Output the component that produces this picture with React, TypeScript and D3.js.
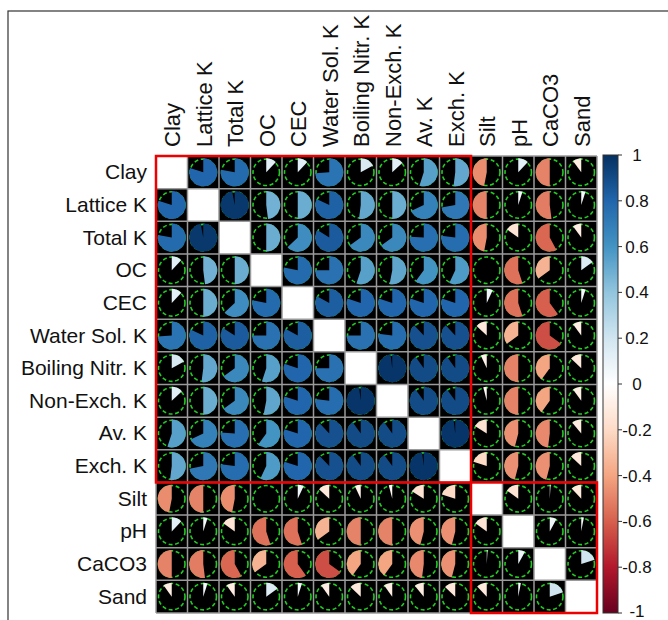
import React from "react";
import * as d3 from "d3";

// variables in plot order
const variables = [
  "Clay", "Lattice K", "Total K", "OC", "CEC", "Water Sol. K", "Boiling Nitr. K",
  "Non-Exch. K", "Av. K", "Exch. K", "Silt", "pH", "CaCO3", "Sand",
];

// lower triangle of the correlation matrix, one array per row
const corLatticeK = [0.8];
const corTotalK = [0.78, 0.97];
const corOC = [0.12, 0.48, 0.5];
const corCEC = [0.12, 0.5, 0.63, 0.78];
const corWaterSolK = [0.74, 0.82, 0.84, 0.75, 0.83];
const corBoilingNitrK = [0.17, 0.52, 0.65, 0.55, 0.8, 0.75];
const corNonExchK = [0.13, 0.5, 0.65, 0.53, 0.8, 0.77, 0.98];
const corAvK = [0.55, 0.68, 0.76, 0.6, 0.8, 0.88, 0.9, 0.9];
const corExchK = [0.52, 0.72, 0.77, 0.57, 0.8, 0.88, 0.9, 0.9, 0.98];
const corSilt = [-0.47, -0.5, -0.47, 0.0, 0.07, -0.13, -0.07, -0.04, -0.16, -0.2];
const corPH = [0.12, 0.05, -0.15, -0.55, -0.55, -0.35, -0.5, -0.5, -0.46, -0.46, -0.15];
const corCaCO3 = [-0.5, -0.52, -0.58, -0.35, -0.6, -0.65, -0.4, -0.4, -0.48, -0.46, 0.01, 0.08];
const corSand = [-0.1, 0.05, -0.1, 0.15, 0.05, -0.1, -0.13, -0.1, -0.11, -0.13, -0.12, 0.03, 0.2];

const lowerRows = [
  [], corLatticeK, corTotalK, corOC, corCEC, corWaterSolK, corBoilingNitrK,
  corNonExchK, corAvK, corExchK, corSilt, corPH, corCaCO3, corSand,
];

// clusters outlined in red (first / last variable index)
const clusters = [[0, 9], [10, 13]];

const legendTicks = [1, 0.8, 0.6, 0.4, 0.2, 0, -0.2, -0.4, -0.6, -0.8, -1];

// corrplot RdBu palette, -1 .. 1
const rdbu = ["#67001F", "#B2182B", "#D6604D", "#F4A582", "#FDDBC7", "#FFFFFF",
  "#D1E5F0", "#92C5DE", "#4393C3", "#2166AC", "#053061"];

const W = 668, H = 620;
const gridLeft = 156, gridTop = 156, gridRight = 597, gridBottom = 613;
const font = "'Liberation Sans', Arial, sans-serif";

export default function App() {
  const n = variables.length;
  const corr = (i: number, j: number) =>
    i === j ? 1 : i > j ? lowerRows[i][j] : lowerRows[j][i];

  const x = d3.scaleBand().domain(variables).range([gridLeft, gridRight]);
  const y = d3.scaleBand().domain(variables).range([gridTop, gridBottom]);
  const cw = x.bandwidth(), ch = y.bandwidth();
  const rad = Math.min(cw, ch) * 0.42;

  const color = d3.scaleLinear<string>()
    .domain(d3.range(rdbu.length).map(k => -1 + (2 * k) / (rdbu.length - 1)))
    .range(rdbu);

  const arc = d3.arc();

  const cells: any[] = [];
  variables.forEach((rv, i) => {
    variables.forEach((cv, j) => {
      const x0 = x(cv)!, y0 = y(rv)!;
      const cx = x0 + cw / 2, cy = y0 + ch / 2;
      if (i === j) {
        cells.push(<rect key={`c${i}-${j}`} x={x0} y={y0} width={cw} height={ch} fill="#fff" />);
        return;
      }
      const r = corr(i, j);
      const a = r * 2 * Math.PI;
      const d = arc({
        innerRadius: 0, outerRadius: rad + 0.8,
        startAngle: r >= 0 ? 0 : a, endAngle: r >= 0 ? a : 0,
      } as any);
      cells.push(
        <g key={`c${i}-${j}`}>
          <rect x={x0} y={y0} width={cw} height={ch} fill="#000" />
          <circle cx={cx} cy={cy} r={rad} fill="none" stroke="#22cc22" strokeWidth={1.6}
            strokeDasharray="4 2.6" />
          {Math.abs(r) > 0.001 && (
            <path d={d || ""} transform={`translate(${cx},${cy})`} fill={color(r)} />
          )}
        </g>
      );
    });
  });

  const gridLines: any[] = [];
  for (let k = 0; k <= n; k++) {
    const gx = gridLeft + k * cw, gy = gridTop + k * ch;
    gridLines.push(<line key={`v${k}`} x1={gx} x2={gx} y1={gridTop} y2={gridBottom} stroke="#9a9a9a" strokeWidth={1.5} />);
    gridLines.push(<line key={`h${k}`} x1={gridLeft} x2={gridRight} y1={gy} y2={gy} stroke="#9a9a9a" strokeWidth={1.5} />);
  }

  // colour legend
  const barX = 603, barW = 15, barTop = 155, barBottom = 613;
  const ly = d3.scaleLinear().domain([-1, 1]).range([barBottom, barTop]);

  return (
    <svg width={W} height={H} style={{ position: "absolute", left: 0, top: 0, background: "#fff" }}
      fontFamily={font}>
      <defs>
        <linearGradient id="rdbu" x1="0" y1="1" x2="0" y2="0">
          {rdbu.map((c, k) => (
            <stop key={k} offset={`${(k / (rdbu.length - 1)) * 100}%`} stopColor={c} />
          ))}
        </linearGradient>
      </defs>
      <rect x={8} y={11} width={700} height={700} fill="none" stroke="#333" strokeWidth={1.2} />
      {cells}
      {gridLines}
      {clusters.map(([a, b], k) => (
        <rect key={k} x={gridLeft + a * cw} y={gridTop + a * ch}
          width={(b - a + 1) * cw} height={(b - a + 1) * ch}
          fill="none" stroke="#ee0000" strokeWidth={2.5} />
      ))}
      {variables.map(v => (
        <text key={`r${v}`} x={147} y={y(v)! + ch / 2 + 7} textAnchor="end" fontSize={21} fill="#111">{v}</text>
      ))}
      {variables.map(v => {
        const tx = x(v)! + cw / 2 + 8.5, ty = 147;
        return (
          <text key={`t${v}`} x={tx} y={ty} transform={`rotate(-90,${tx},${ty})`} fontSize={22} fill="#111">{v}</text>
        );
      })}
      <rect x={barX} y={barTop} width={barW} height={barBottom - barTop} fill="url(#rdbu)" stroke="#333" strokeWidth={1} />
      {legendTicks.map(t => (
        <g key={`l${t}`}>
          <line x1={barX + barW} x2={barX + barW + 4} y1={ly(t)} y2={ly(t)} stroke="#333" strokeWidth={1} />
          <text x={637} y={Math.min(ly(t) + 6, 617)} textAnchor="middle" fontSize={17} fill="#111">{String(t)}</text>
        </g>
      ))}
    </svg>
  );
}
